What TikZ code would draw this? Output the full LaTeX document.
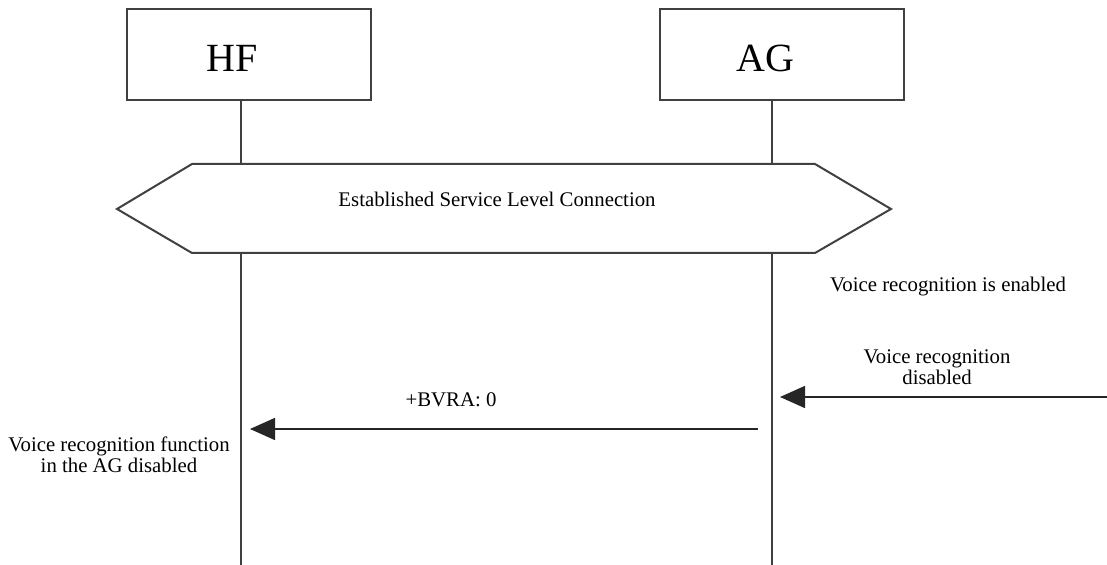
\documentclass[tikz,border=0pt]{standalone}
\usepackage{fontspec}
\setmainfont{Liberation Serif}
\usetikzlibrary{arrows.meta}
\tikzset{
  entitybox/.style={draw=black!75, line width=1pt, minimum width=122pt, minimum height=45.5pt, inner sep=0pt},
  entityname/.style={font=\fontsize{20}{24}\selectfont, inner sep=0pt},
  msgtext/.style={font=\fontsize{10.4}{10.5}\selectfont, align=center, inner sep=0pt},
  lifeline/.style={draw=black!75, line width=1pt},
  msgarrow/.style={draw=black!85, line width=0.8pt, -{Triangle[length=12.5pt,width=11pt]}}
}
\begin{document}
\begin{tikzpicture}[x=0.5pt, y=-0.5pt]
    \useasboundingbox (0,0) rectangle (1107,565);
    % Cajas de las entidades
    \node[entitybox] (hf) at (249,54.5) {};
    \node[entitybox] (ag) at (782,54.5) {};
    \node[entityname] (hfname) at (232,58) {HF};
    \node[entityname] (agname) at (765,58) {AG};
    % Extremos de las lineas de vida
    \coordinate (hftop) at (241,100);
    \coordinate (hfup) at (241,164);
    \coordinate (hfdown) at (241,253);
    \coordinate (hfend) at (241,565);
    \coordinate (agtop) at (772,100);
    \coordinate (agup) at (772,164);
    \coordinate (agdown) at (772,253);
    \coordinate (agend) at (772,565);
    \draw[lifeline] (hftop) -- (hfup);
    \draw[lifeline] (hfdown) -- (hfend);
    \draw[lifeline] (agtop) -- (agup);
    \draw[lifeline] (agdown) -- (agend);
    % Conexion establecida (hexagono)
    \draw[draw=black!75, line width=1pt] (117,209) -- (192,164) -- (815,164) -- (891,209) -- (815,253) -- (192,253) -- cycle;
    \node[msgtext] (slc) at (497,199) {Established Service Level Connection};
    % Mensajes
    \node[msgtext] (enabled) at (948,287) {Voice recognition is enabled};
    \node[msgtext] (disabled) at (937,367) {Voice recognition\\disabled};
    \coordinate (userin) at (1107,397);
    \coordinate (agin) at (780,397);
    \draw[msgarrow] (userin) -- (agin);
    \node[msgtext] (bvra) at (451,400) {+BVRA: 0};
    \coordinate (agout) at (758,429);
    \coordinate (hfin) at (250,429);
    \draw[msgarrow] (agout) -- (hfin);
    \node[msgtext] (hfnote) at (119,455) {Voice recognition function\\in the AG disabled};
\end{tikzpicture}
\end{document}
